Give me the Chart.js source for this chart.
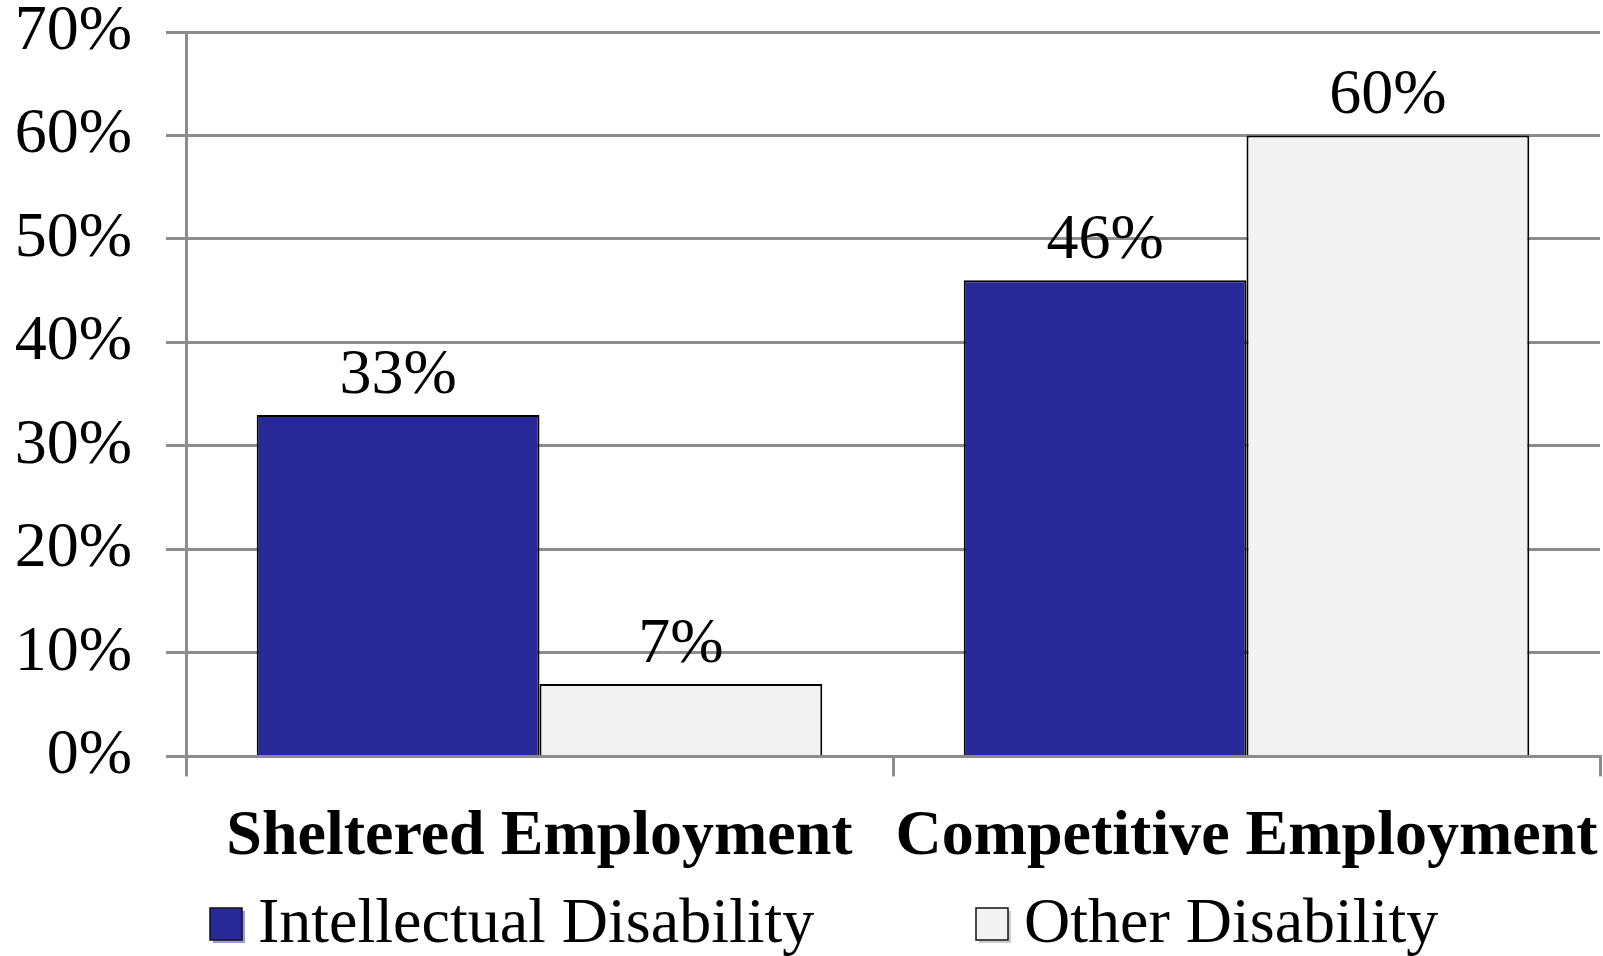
<!DOCTYPE html>
<html>
<head>
<meta charset="utf-8">
<script src="https://cdn.jsdelivr.net/npm/chart.js@4/dist/chart.umd.min.js"></script>
<style>
  html, body { margin: 0; padding: 0; background: #fff; }
  #wrap { width: 1603px; height: 956px; position: relative; }
</style>
</head>
<body>
<div id="wrap"><canvas id="employment-chart"></canvas></div>
<script>
// -------------- Data --------------
const categories = ["Sheltered Employment", "Competitive Employment"];
const seriesNames = ["Intellectual Disability", "Other Disability"];
const intellectualValues = [33, 46];
const otherValues = [7, 60];
const yTicks = [0, 10, 20, 30, 40, 50, 60, 70];

const serif = "'Liberation Serif', 'Times New Roman', serif";
const gridGrey = '#8c8c8c';
const barColors = ['#282898', '#f2f2f2'];

// value labels drawn over each bar
const valueLabels = {
    id: 'valueLabels',
    afterDatasetsDraw(chart) {
        const ctx = chart.ctx;
        ctx.save();
        ctx.font = '64px ' + serif;
        ctx.fillStyle = '#000';
        ctx.textAlign = 'center';
        ctx.textBaseline = 'alphabetic';
        chart.data.datasets.forEach((ds, i) => {
            chart.getDatasetMeta(i).data.forEach((bar, j) => {
                ctx.fillText(ds.data[j] + '%', bar.x, bar.y - 22);
            });
        });
        ctx.restore();
    }
};

// legend along the bottom, spaced like the original
const bottomLegend = {
    id: 'bottomLegend',
    afterDraw(chart) {
        const ctx = chart.ctx;
        const x = chart.scales.x;
        const mid = (x.left + x.right) / 2;
        const starts = [x.left + 24, mid + 83];
        const y = chart.height - 31;
        ctx.save();
        ctx.font = '64px ' + serif;
        ctx.textBaseline = 'middle';
        chart.data.datasets.forEach((ds, i) => {
            const bx = starts[i];
            // faint shadow
            ctx.fillStyle = i === 0 ? '#9999dd' : '#cccccc';
            ctx.fillRect(bx + 3, y - 14, 32, 32);
            ctx.fillStyle = ds.backgroundColor;
            ctx.fillRect(bx, y - 17, 32, 32);
            ctx.strokeStyle = '#111';
            ctx.lineWidth = 1.5;
            ctx.strokeRect(bx, y - 17, 32, 32);
            ctx.fillStyle = '#000';
            ctx.fillText(ds.label, bx + 48, y);
        });
        ctx.restore();
    }
};

const chartData = {
    labels: categories,
    datasets: [{
        label: seriesNames[0],
        data: intellectualValues,
        backgroundColor: barColors[0],
        borderColor: '#000',
        borderWidth: 2,
        categoryPercentage: 0.8,
        barPercentage: 1.0
    }, {
        label: seriesNames[1],
        data: otherValues,
        backgroundColor: barColors[1],
        borderColor: '#000',
        borderWidth: 2,
        categoryPercentage: 0.8,
        barPercentage: 1.0
    }]
};

const chartOptions = {
    responsive: true,
    maintainAspectRatio: false,
    animation: false,
    layout: {
        padding: { left: 14, right: 3, top: 0, bottom: 58 }
    },
    plugins: {
        legend: { display: false },
        tooltip: { enabled: false }
    },
    scales: {
        x: {
            // labels sit inside their categories, no extra side padding needed
            afterFit(scale) {
                scale.paddingLeft = 0;
                scale.paddingRight = 0;
            },
            grid: {
                drawOnChartArea: false,
                color: gridGrey,
                lineWidth: 3,
                tickLength: 20
            },
            border: { color: gridGrey, width: 3 },
            ticks: {
                color: '#000',
                padding: 0,
                maxRotation: 0,
                minRotation: 0,
                autoSkip: false,
                font: { family: serif, size: 64, weight: 'bold', lineHeight: 1.9 }
            }
        },
        y: {
            min: yTicks[0],
            max: yTicks[yTicks.length - 1],
            afterBuildTicks(axis) {
                axis.ticks = yTicks.map(v => ({ value: v }));
            },
            afterFit(scale) {
                scale.width = 172;
                scale.paddingTop = 32;
                scale.paddingBottom = 0;
            },
            grid: {
                color: gridGrey,
                lineWidth: 3,
                tickLength: 20
            },
            border: { color: gridGrey, width: 3 },
            ticks: {
                color: '#000',
                padding: 34,
                font: { family: serif, size: 64, lineHeight: 1.0 },
                callback: v => v + '%'
            }
        }
    }
};

const employmentChart = new Chart(document.getElementById('employment-chart'), {
    type: 'bar',
    data: chartData,
    options: chartOptions,
    plugins: [valueLabels, bottomLegend]
});
</script>
</body>
</html>
